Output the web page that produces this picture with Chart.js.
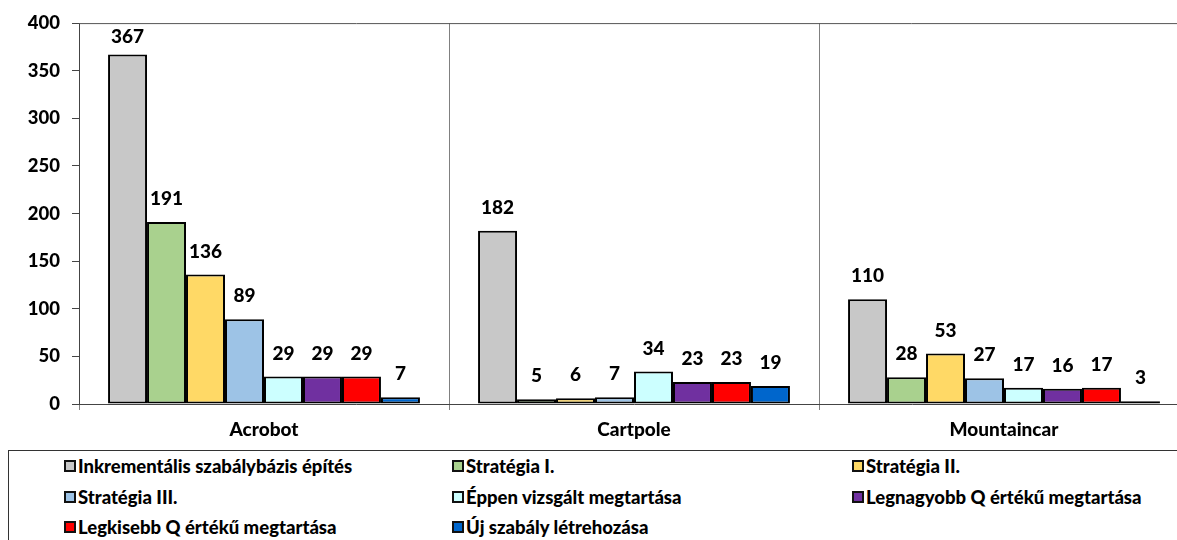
<!DOCTYPE html>
<html>
<head>
<meta charset="utf-8">
<script src="https://cdn.jsdelivr.net/npm/chart.js@4"></script>
<style>
  html, body { margin: 0; padding: 0; background: #fff; width: 1177px; height: 540px; overflow: hidden; }
  #wrap { position: absolute; left: 0; top: 0; width: 1195px; height: 450px; }
  #legend { position: absolute; left: 8px; top: 450px; width: 1200px; height: 120px;
            border: 1px solid #333; box-sizing: border-box; font-family: Lato, sans-serif;
            font-weight: 900; font-size: 18.5px; color: #000; }
  .item { position: absolute; display: flex; align-items: center; white-space: nowrap; height: 24px; }
  .box { width: 8px; height: 8px; border: 2px solid #111; margin-right: 2px; }
</style>
</head>
<body>
<div id="wrap"><canvas id="c" width="1195" height="450"></canvas></div>
<div id="legend"></div>
<script>
// Environments on the x axis
const categories = ['Acrobot', 'Cartpole', 'Mountaincar'];

// Series names (legend order)
const seriesNames = [
  'Inkrementális szabálybázis építés',
  'Stratégia I.',
  'Stratégia II.',
  'Stratégia III.',
  'Éppen vizsgált megtartása',
  'Legnagyobb Q értékű megtartása',
  'Legkisebb Q értékű megtartása',
  'Új szabály létrehozása'
];

// Values per series: [Acrobot, Cartpole, Mountaincar]
const inkrementalis = [367, 182, 110];
const strategia1    = [191, 5, 28];
const strategia2    = [136, 6, 53];
const strategia3    = [89, 7, 27];
const eppenVizsgalt = [29, 34, 17];
const legnagyobbQ   = [29, 23, 16];
const legkisebbQ    = [29, 23, 17];
const ujSzabaly     = [7, 19, 3];

const seriesValues = [inkrementalis, strategia1, strategia2, strategia3,
                      eppenVizsgalt, legnagyobbQ, legkisebbQ, ujSzabaly];

const seriesColors = ['#C8C8C8', '#A9D18E', '#FFD966', '#9DC3E6',
                      '#CCFFFF', '#7030A0', '#FF0000', '#0066CC'];

// Y axis ticks
const yTicks = [0, 50, 100, 150, 200, 250, 300, 350, 400];

const FONT = 'Lato, sans-serif';
const WEIGHT = '900';

// Value labels above each bar, kept inside the plot area
const valueLabels = {
  id: 'valueLabels',
  afterDatasetsDraw(chart) {
    const ctx = chart.ctx;
    ctx.save();
    ctx.font = WEIGHT + ' 19px ' + FONT;
    ctx.fillStyle = '#000';
    ctx.textAlign = 'center';
    ctx.textBaseline = 'middle';
    chart.data.datasets.forEach((ds, i) => {
      chart.getDatasetMeta(i).data.forEach((bar, j) => {
        const y = Math.max(bar.y - 23, chart.chartArea.top + 14);
        ctx.fillText(String(ds.data[j]), bar.x, y);
      });
    });
    ctx.restore();
  }
};

// Top border of the plot area
const plotTop = {
  id: 'plotTop',
  beforeDatasetsDraw(chart) {
    const { ctx, chartArea: a } = chart;
    ctx.save();
    ctx.strokeStyle = '#555';
    ctx.lineWidth = 1;
    ctx.beginPath();
    ctx.moveTo(a.left, a.top + 0.5);
    ctx.lineTo(a.right, a.top + 0.5);
    ctx.stroke();
    ctx.restore();
  }
};

new Chart(document.getElementById('c'), {
  type: 'bar',
  data: {
    labels: categories,
    datasets: seriesNames.map((name, i) => ({
      label: name,
      data: seriesValues[i],
      backgroundColor: seriesColors[i],
      borderColor: '#000',
      borderWidth: 2,
      borderSkipped: false,
      barPercentage: 1.0,
      categoryPercentage: 0.843
    }))
  },
  options: {
    responsive: false,
    animation: false,
    layout: { padding: { top: 23, right: 6, left: 0, bottom: 0 } },
    plugins: { legend: { display: false }, tooltip: { enabled: false } },
    scales: {
      x: {
        offset: true,
        grid: { offset: true, color: '#808080', lineWidth: 1, tickLength: 6, drawTicks: true },
        border: { color: '#444', width: 1 },
        ticks: { color: '#000', font: { family: FONT, size: 19, weight: WEIGHT }, padding: 8 },
        afterFit(s) { s.height = 46; }
      },
      y: {
        min: 0, max: 400,
        afterBuildTicks(s) { s.ticks = yTicks.map(v => ({ value: v })); },
        grid: { drawOnChartArea: false, tickLength: 7, color: '#444' },
        border: { color: '#444', width: 1 },
        ticks: { color: '#000', font: { family: FONT, size: 18.5, weight: WEIGHT }, padding: 12 },
        afterFit(s) { s.width = 79; }
      }
    }
  },
  plugins: [plotTop, valueLabels]
});

// Legend: three columns, three rows
const legendCols = [55, 443, 843];
const legendRows = [15, 46, 76];
const legend = document.getElementById('legend');
seriesNames.forEach((name, i) => {
  const el = document.createElement('div');
  el.className = 'item';
  el.style.left = legendCols[i % 3] + 'px';
  el.style.top = (legendRows[Math.floor(i / 3)] - 12) + 'px';
  const box = document.createElement('span');
  box.className = 'box';
  box.style.background = seriesColors[i];
  const txt = document.createElement('span');
  txt.textContent = name;
  el.appendChild(box);
  el.appendChild(txt);
  legend.appendChild(el);
});
</script>
</body>
</html>
